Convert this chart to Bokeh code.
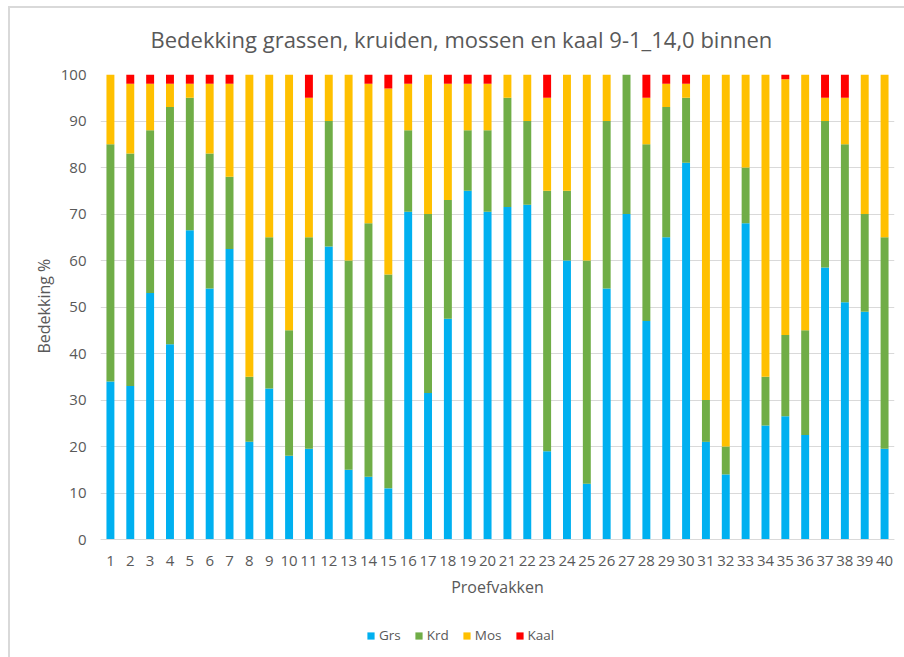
from bokeh.plotting import figure
from bokeh.models import ColumnDataSource, Legend, LegendItem, FixedTicker, InlineStyleSheet, Title
from bokeh.embed import file_html
from bokeh.resources import INLINE

proefvakken = list(range(1, 41))
series = ["Grs", "Krd", "Mos", "Kaal"]
colors = ["#00B0F0", "#70AD47", "#FFC000", "#FF0000"]

grs = [34, 33, 53, 42, 66.5, 54, 62.5, 21, 32.5, 18,
       19.5, 63, 15, 13.5, 11, 70.5, 31.5, 47.5, 75, 70.5,
       71.5, 72, 19, 60, 12, 54, 70, 47, 65, 81,
       21, 14, 68, 24.5, 26.5, 22.5, 58.5, 51, 49, 19.5]
krd = [51, 50, 35, 51, 28.5, 29, 15.5, 14, 32.5, 27,
       45.5, 27, 45, 54.5, 46, 17.5, 38.5, 25.5, 13, 17.5,
       23.5, 18, 56, 15, 48, 36, 30, 38, 28, 14,
       9, 6, 12, 10.5, 17.5, 22.5, 31.5, 34, 21, 45.5]
mos = [15, 15, 10, 5, 3, 15, 20, 65, 35, 55,
       30, 10, 40, 30, 40, 10, 30, 25, 10, 10,
       5, 10, 20, 25, 40, 10, 0, 10, 5, 3,
       70, 80, 20, 65, 55, 55, 5, 10, 30, 35]
kaal = [0, 2, 2, 2, 2, 2, 2, 0, 0, 0,
        5, 0, 0, 2, 3, 2, 0, 2, 2, 2,
        0, 0, 5, 0, 0, 0, 0, 5, 2, 2,
        0, 0, 0, 0, 1, 0, 5, 5, 0, 0]
y_ticks = list(range(0, 101, 10))

title_text = "Bedekking grassen, kruiden, mossen en kaal 9-1_14,0 binnen"
y_title = "Bedekking %"
x_title = "Proefvakken"
FONT = "Open Sans"
TXT = "#595959"

# layout (pixels): canvas height, top of plot area, baseline of the bars
H, TOP, BASE = 657, 74, 539
y_start = -100.0 * (H - BASE) / (BASE - TOP)   # frame extends below the baseline to host axis labels + legend

src = ColumnDataSource(dict(x=proefvakken, Grs=grs, Krd=krd, Mos=mos, Kaal=kaal))

p = figure(width=904, height=H, output_backend="svg", toolbar_location=None,
           x_range=(0.5, 40.5), y_range=(y_start, 100),
           min_border_left=100, min_border_right=10, min_border_top=TOP, min_border_bottom=0,
           title=title_text)

rs = p.vbar_stack(series, x="x", width=0.4, fill_color=colors, line_color=None, source=src)

p.title.align = "left"
p.title.offset = 50
p.title.text_font = FONT
p.title.text_font_size = "22px"
p.title.text_font_style = "normal"
p.title.text_color = TXT
p.title.standoff = 42

p.outline_line_color = None
p.xgrid.visible = False
p.ygrid.grid_line_color = "#d9d9d9"
p.ygrid.grid_line_width = 1

p.yaxis.ticker = FixedTicker(ticks=y_ticks)
p.yaxis.axis_line_color = None
p.yaxis.major_tick_line_color = None
p.yaxis.minor_tick_line_color = None
p.yaxis.major_label_standoff = 8

p.xaxis.fixed_location = 0
p.xaxis.ticker = FixedTicker(ticks=proefvakken)
p.xaxis.axis_line_color = "#d9d9d9"
p.xaxis.major_tick_line_color = None
p.xaxis.minor_tick_line_color = None
p.xaxis.major_label_standoff = 10
p.xaxis.axis_label = x_title
p.xaxis.axis_label_standoff = 7

for ax in (p.xaxis[0], p.yaxis[0]):
    ax.major_label_text_font = FONT
    ax.major_label_text_font_size = "15px"
    ax.major_label_text_color = TXT
    ax.axis_label_text_font = FONT
    ax.axis_label_text_font_size = "16px"
    ax.axis_label_text_font_style = "normal"
    ax.axis_label_text_color = TXT

# y-axis title, centred on the 0-100 part of the plot area
p.add_layout(Title(text=y_title, align="left", offset=H - 353, standoff=5,
                   text_font=FONT, text_font_size="16px", text_font_style="normal",
                   text_color=TXT), "left")

items = [LegendItem(label=s, renderers=[r]) for s, r in zip(series, rs)]
legend = Legend(items=items,
                orientation="horizontal", location=(266, 13),
                padding=0, margin=0, spacing=13, label_standoff=4,
                glyph_width=9, glyph_height=9,
                border_line_color=None, background_fill_alpha=0,
                label_text_font=FONT, label_text_font_size="13.5px", label_text_color=TXT)
p.add_layout(legend, "center")

p.stylesheets = [InlineStyleSheet(css=(
    ":host::after{content:'';position:absolute;left:8px;top:6px;right:0;bottom:0;"
    "border-left:2px solid #d9d9d9;border-top:2px solid #d9d9d9;pointer-events:none;}"))]

open("out.html", "w").write(file_html(p, INLINE))
